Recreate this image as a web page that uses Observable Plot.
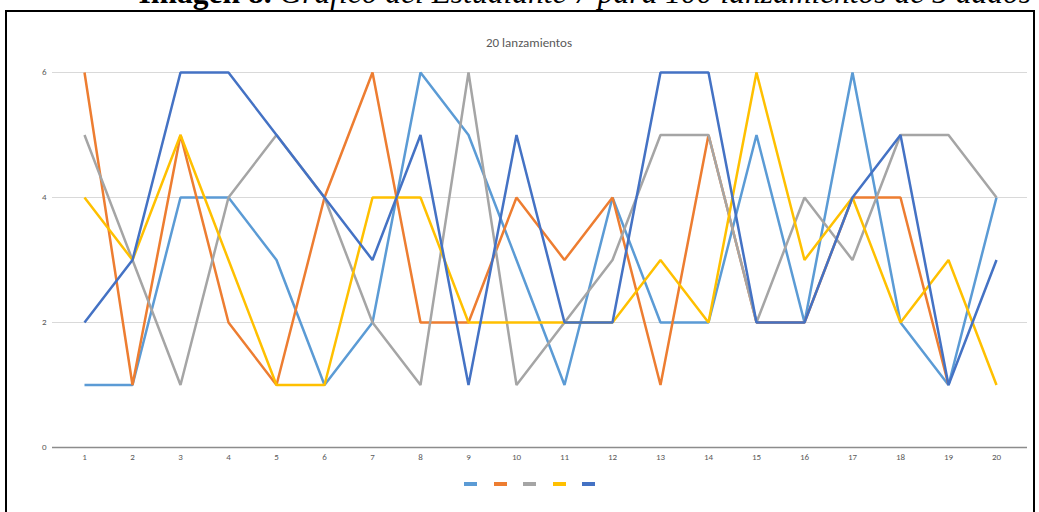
<!DOCTYPE html>
<html>
<head>
<meta charset="utf-8">
<script src="https://cdn.jsdelivr.net/npm/d3@7"></script>
<script src="https://cdn.jsdelivr.net/npm/@observablehq/plot@0.6"></script>
<style>
  html, body { margin: 0; padding: 0; background: #fff; }
  #wrap { position: relative; width: 1039px; height: 512px; overflow: hidden; background: #fff; }
  #caption { position: absolute; left: 0; width: 1039px; top: -25px; text-align: right; padding-right: 8px; box-sizing: border-box;
    font-family: "Liberation Serif", "Times New Roman", serif; font-size: 31.5px; line-height: 36px; color: #000; white-space: nowrap; }
  #caption b { font-weight: bold; }
  #caption i { font-style: italic; }
  #frame { position: absolute; left: 5px; top: 10px; width: 1030px; height: 520px; border: 2px solid #000; box-sizing: border-box; }
  #title { position: absolute; left: 0; width: 1058px; top: 35px; text-align: center;
    font-family: Carlito, "Liberation Sans Narrow", "Liberation Sans", sans-serif; font-size: 13px; color: #595959; }
  #chart { position: absolute; left: 0; top: 0; }
  #legend { position: absolute; top: 482px; left: 464px; display: flex; gap: 16.5px; }
  #legend span { display: inline-block; width: 13px; height: 4px; }
</style>
</head>
<body>
<div id="wrap">
  <div id="caption"><b>Imagen 8.</b> <i>Gráfico del Estudiante 7 para 100 lanzamientos de 5 dados</i></div>
  <div id="frame"></div>
  <div id="title">20 lanzamientos</div>
  <div id="chart"></div>
  <div id="legend"></div>
</div>
<script>
const tiradas = [1, 2, 3, 4, 5, 6, 7, 8, 9, 10, 11, 12, 13, 14, 15, 16, 17, 18, 19, 20];
const yTicks = [0, 2, 4, 6];
const serie1 = [1, 1, 4, 4, 3, 1, 2, 6, 5, 3, 1, 4, 2, 2, 5, 2, 6, 2, 1, 4];
const serie2 = [6, 1, 5, 2, 1, 4, 6, 2, 2, 4, 3, 4, 1, 5, 2, 2, 4, 4, 1];
const serie3 = [5, 3, 1, 4, 5, 4, 2, 1, 6, 1, 2, 3, 5, 5, 2, 4, 3, 5, 5, 4];
const serie4 = [4, 3, 5, 3, 1, 1, 4, 4, 2, 2, 2, 2, 3, 2, 6, 3, 4, 2, 3, 1];
const serie5 = [2, 3, 6, 6, 5, 4, 3, 5, 1, 5, 2, 2, 6, 6, 2, 2, 4, 5, 1, 3];
const seriesNames = ["s1", "s2", "s3", "s4", "s5"];
const seriesColors = ["#5B9BD5", "#ED7D31", "#A5A5A5", "#FFC000", "#4472C4"];

const allSeries = [serie1, serie2, serie3, serie4, serie5];
const data = [];
allSeries.forEach((vals, i) => {
  vals.forEach((v, j) => data.push({ serie: seriesNames[i], tirada: tiradas[j], valor: v }));
});

const font = 'Carlito, "Liberation Sans Narrow", "Liberation Sans", sans-serif';

const chart = Plot.plot({
  width: 1039,
  height: 512,
  marginLeft: 52,
  marginRight: 12,
  marginTop: 72,
  marginBottom: 65,
  style: { fontFamily: font, fontSize: "9px", color: "#595959", background: "transparent" },
  x: { type: "point", domain: tiradas, padding: 0.5, label: null },
  y: { domain: [0, 6], ticks: yTicks, label: null },
  color: { domain: seriesNames, range: seriesColors },
  marks: [
    Plot.gridY(yTicks.filter(d => d !== 0), { stroke: "#d9d9d9", strokeOpacity: 1, strokeWidth: 1 }),
    Plot.ruleY([0], { stroke: "#8c8c8c", strokeWidth: 1.5 }),
    Plot.axisY(yTicks, { tickSize: 0, tickPadding: 6, label: null, fill: "#595959", tickFormat: d => String(d) }),
    Plot.axisX(tiradas, { tickSize: 0, tickPadding: 6, label: null, fill: "#595959", tickFormat: d => String(d) }),
    Plot.line(data, { x: "tirada", y: "valor", z: "serie", stroke: "serie", strokeWidth: 2.5, strokeLinejoin: "miter", strokeLinecap: "butt" })
  ]
});
document.getElementById("chart").appendChild(chart);

const legend = document.getElementById("legend");
seriesColors.forEach(c => {
  const s = document.createElement("span");
  s.style.background = c;
  legend.appendChild(s);
});
</script>
</body>
</html>
